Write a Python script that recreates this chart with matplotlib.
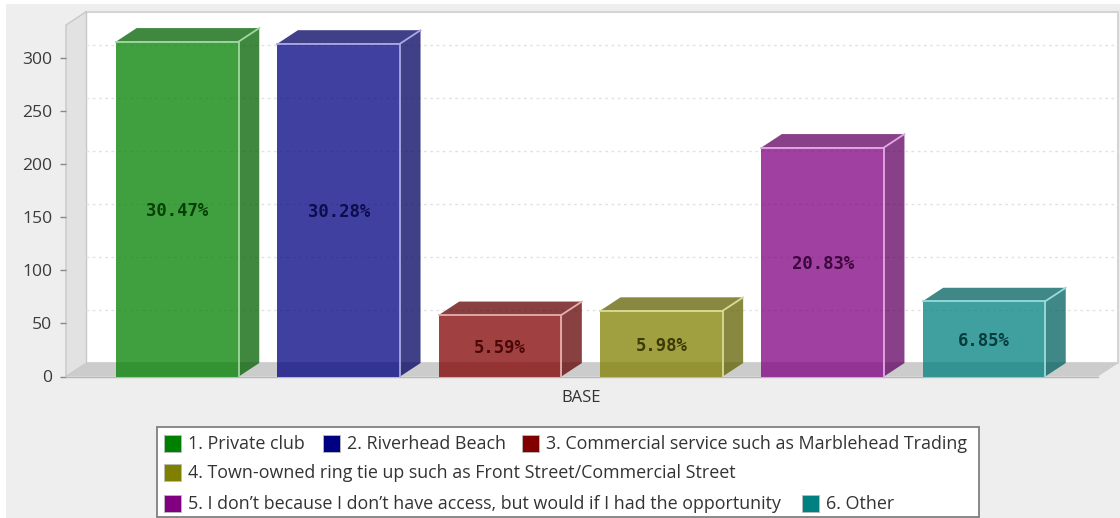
import matplotlib
matplotlib.use('Agg')
import matplotlib.pyplot as plt
from matplotlib.patches import Polygon, Rectangle

# Values
categories = ['1. Private club', '2. Riverhead Beach',
              '3. Commercial service such as Marblehead Trading',
              '4. Town-owned ring tie up such as Front Street/Commercial Street',
              "5. I don\u2019t because I don\u2019t have access, but would if I had the opportunity",
              '6. Other']
values = [316, 314, 58, 62, 216, 71]
percent_labels = ['30.47%', '30.28%', '5.59%', '5.98%', '20.83%', '6.85%']
y_ticks = [0, 50, 100, 150, 200, 250, 300]
x_label = 'BASE'

colors = ['#008000', '#000080', '#800000', '#808000', '#800080', '#008080']
side_colors = ['#006000', '#000060', '#600000', '#606000', '#600060', '#006060']
edge_colors = ['#9fd89f', '#a9a9e6', '#e6b0b0', '#dcdc9a', '#e3a9e3', '#9adcdc']
label_colors = ['#063f06', '#0c0c4f', '#4a0808', '#3a3a06', '#3c063c', '#063c3c']

W, H = 1120, 518
plt.rcParams['font.family'] = ['Open Sans', 'DejaVu Sans']

fig = plt.figure(figsize=(W / 100, H / 100), dpi=100, facecolor='white')


def fx(px):
    return px / W


def fy(py):
    return 1 - py / H


# grey page background, the screenshot has a thin white strip top and left
fig.patches.append(Rectangle((fx(6), 0), fx(W - 6), fy(4), transform=fig.transFigure,
                             facecolor='#eeeeee', edgecolor='none', zorder=-5))

ax = fig.add_axes([fx(66), fy(376.5), fx(1098 - 66), (376.5 - 25) / H])
ax.patch.set_visible(False)
x_min, x_max = -0.691, 5.707
y_max = 331.6
ax.set_xlim(x_min, x_max)
ax.set_ylim(0, y_max)
bar_width = 0.76
dx = 0.127  # depth of the fake 3d
dy = 12.7

# back wall, side wall, floor
ax.add_patch(Polygon([(x_min + dx, dy), (x_max + dx, dy), (x_max + dx, y_max + dy), (x_min + dx, y_max + dy)],
                     facecolor='white', edgecolor='#d4d4d4', lw=1.5, zorder=1, clip_on=False))
ax.add_patch(Polygon([(x_min, 0), (x_min + dx, dy), (x_min + dx, y_max + dy), (x_min, y_max)],
                     facecolor='#e2e2e2', edgecolor='#c8c8c8', lw=1, zorder=1.5, clip_on=False))
ax.add_patch(Polygon([(x_min, 0), (x_max, 0), (x_max + dx, dy), (x_min + dx, dy)],
                     facecolor='#cccccc', edgecolor='none', zorder=1.5, clip_on=False))

# dotted grid on the back wall
for t in y_ticks[1:]:
    ax.plot([x_min + dx, x_max + dx], [t + dy, t + dy], color='#e2e2e2', lw=1,
            dashes=(2, 2.5), zorder=2, clip_on=False)

for i, v in enumerate(values):
    left = i - bar_width / 2
    right = i + bar_width / 2
    ax.bar(i, v, width=bar_width, color=colors[i], alpha=0.75, zorder=4, linewidth=0)
    ax.add_patch(Polygon([(right, 0), (right + dx, dy), (right + dx, v + dy), (right, v)],
                         facecolor=side_colors[i], alpha=0.75, edgecolor='none', zorder=4, clip_on=False))
    ax.add_patch(Polygon([(left, v), (left + dx, v + dy), (right + dx, v + dy), (right, v)],
                         facecolor=side_colors[i], alpha=0.75, edgecolor='none', zorder=4, clip_on=False))
    # light outline on the front top and right, and on the top-right depth edge
    ax.plot([left, right, right], [v, v, 0], color=edge_colors[i], lw=1.3, zorder=5, solid_joinstyle='miter')
    ax.plot([right, right + dx], [v, v + dy], color=edge_colors[i], lw=1.3, zorder=5, clip_on=False)
    ax.text(i, v / 2 - 2, percent_labels[i], ha='center', va='center', zorder=6,
            family='DejaVu Sans Mono', fontweight='bold', fontsize=12.4, color=label_colors[i])

ax.set_xticks([])
ax.set_yticks(y_ticks)
ax.tick_params(axis='y', length=4, width=1, color='#888888', labelcolor='#3c3c3c', labelsize=12.6, pad=6)
for side in ['top', 'right', 'bottom', 'left']:
    ax.spines[side].set_visible(False)
ax.plot([x_min, x_max], [0, 0], color='#b8b8b8', lw=1, zorder=3, clip_on=False)

fig.text(fx(581), fy(397.5), x_label, ha='center', va='center', fontsize=12, color='#333333')

# legend box, three rows with uneven items like the original
fig.patches.append(Rectangle((fx(156.5), fy(517)), (979 - 156.5) / W, (517 - 426.5) / H,
                             transform=fig.transFigure, facecolor='white',
                             edgecolor='#808080', lw=1.3, zorder=8))
legend_rows = [(443, 164, 0), (443, 323, 1), (443, 522, 2), (472, 164, 3), (503, 164, 4), (503, 802, 5)]
for row_y, swatch_x, idx in legend_rows:
    fig.patches.append(Rectangle((fx(swatch_x), fy(row_y + 8.5)), 17 / W, 17 / H,
                                 transform=fig.transFigure, facecolor=colors[idx],
                                 edgecolor='#bbbbbb', lw=0.6, zorder=9))
    fig.text(fx(swatch_x + 24), fy(row_y + 1.2), categories[idx], ha='left', va='center',
             fontsize=12.9, color='#333333', zorder=9)

fig.savefig('out.png', dpi=100, facecolor=fig.get_facecolor())
